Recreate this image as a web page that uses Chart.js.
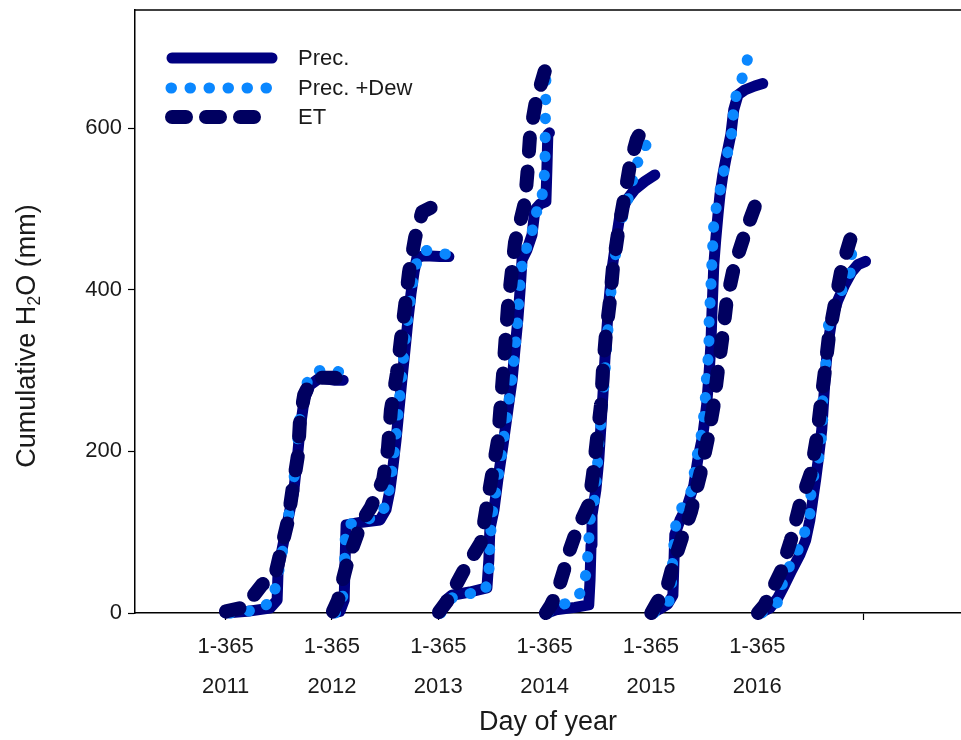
<!DOCTYPE html>
<html>
<head>
<meta charset="utf-8">
<title>Cumulative H2O</title>
<script src="https://cdn.jsdelivr.net/npm/chart.js@4.4.1/dist/chart.umd.min.js"></script>
<style>
  html, body { margin: 0; padding: 0; background: #fff; }
  #wrap { width: 961px; height: 740px; }
</style>
</head>
<body>
<div id="wrap"><canvas id="waterChart" width="961" height="740"></canvas></div>
<script>
// Years on the x axis, each one runs day 1 to 365
const years = ['2011', '2012', '2013', '2014', '2015', '2016'];
const yTicks = [0, 200, 400, 600];

// Cumulative precipitation, [day of year, mm]
const prec2011 = [[1,0],[67,2],[138,6],[160,16],[163,53],[175,78],[194,116],[212,152],[222,189],[231,227],[244,264],[262,282],[293,291],[340,288],[365,288]];
const prec2012 = [[3,0],[25,2],[38,16],[41,66],[44,109],[87,112],[149,115],[168,128],[180,152],[190,183],[199,214],[208,251],[217,288],[227,326],[236,363],[245,394],[255,422],[264,440],[289,442],[335,441],[363,441]];
const prec2013 = [[5,0],[24,16],[42,22],[98,26],[151,31],[157,66],[160,103],[173,128],[185,165],[201,208],[216,251],[229,288],[238,326],[247,363],[254,400],[260,437],[275,449],[291,468],[300,499],[316,506],[334,509],[337,548],[340,592],[345,594]];
const prec2014 = [[7,0],[35,4],[94,7],[137,10],[141,41],[144,84],[147,121],[159,152],[168,189],[175,233],[181,270],[187,313],[193,350],[200,387],[209,425],[222,462],[234,493],[255,511],[280,524],[311,534],[342,542]];
const prec2015 = [[3,0],[28,5],[52,11],[68,22],[71,59],[74,97],[90,115],[114,134],[133,158],[145,189],[161,220],[173,258],[180,295],[186,332],[189,369],[192,400],[195,431],[201,462],[208,493],[214,517],[223,542],[235,567],[248,592],[257,623],[270,641],[291,647],[322,652],[347,655]];
const prec2016 = [[8,0],[39,6],[64,19],[85,35],[107,53],[132,72],[150,90],[163,115],[172,140],[181,165],[191,196],[200,227],[206,264],[212,301],[219,332],[231,363],[250,387],[271,406],[293,422],[312,431],[336,435]];

// Cumulative precipitation plus dew, [day of year, mm]
const dew2011 = [[14,0],[107,4],[144,16],[157,35],[172,66],[191,109],[206,146],[219,189],[228,233],[240,270],[262,295],[299,301],[365,298]];
const dew2012 = [[10,0],[31,9],[38,41],[41,90],[47,109],[103,115],[149,121],[168,134],[180,158],[193,196],[202,233],[211,270],[221,311],[230,348],[242,384],[252,412],[264,435],[283,449],[320,447],[363,443]];
const dew2013 = [[8,0],[27,14],[52,21],[145,27],[157,47],[160,84],[167,121],[179,152],[194,189],[209,233],[222,270],[235,313],[244,350],[250,387],[257,425],[269,447],[288,464],[300,493],[319,505],[331,548],[332,598],[334,660]];
const dew2014 = [[10,0],[47,9],[94,16],[116,28],[131,53],[137,90],[141,115],[153,134],[162,171],[168,208],[178,251],[187,295],[193,332],[200,369],[209,412],[222,449],[234,480],[258,511],[277,542],[299,571],[333,588]];
const dew2015 = [[9,0],[34,6],[59,16],[65,41],[68,72],[77,109],[99,134],[127,152],[139,187],[155,217],[167,254],[173,297],[180,326],[180,357],[183,381],[186,404],[189,433],[192,458],[195,483],[204,505],[214,522],[226,546],[235,565],[248,586],[254,608],[257,631],[276,654],[291,671],[301,688]];
const dew2016 = [[14,0],[60,10],[73,31],[104,62],[129,80],[147,100],[163,121],[166,146],[178,177],[191,192],[203,230],[203,274],[216,321],[222,365],[268,404],[290,422],[293,447],[330,459]];

// Cumulative evapotranspiration, [day of year, mm]
const et2011 = [[1,2],[45,6],[76,16],[113,35],[154,47],[172,78],[194,115],[209,156],[225,196],[231,239],[244,270],[259,282],[293,291],[340,291],[365,288]];
const et2012 = [[3,2],[19,16],[34,41],[50,66],[72,90],[93,113],[121,131],[159,165],[174,204],[183,251],[202,297],[214,338],[227,380],[239,421],[258,464],[280,496],[320,504],[357,508]];
const et2013 = [[2,1],[30,16],[77,51],[132,87],[154,141],[185,213],[201,295],[216,378],[238,458],[269,508],[278,551],[285,592],[303,633],[331,671],[334,678]];
const et2014 = [[4,0],[20,10],[41,28],[60,53],[78,78],[100,103],[137,134],[150,171],[162,214],[175,258],[181,301],[190,344],[203,387],[212,427],[227,468],[246,511],[265,555],[286,586],[317,608]];
const et2015 = [[1,0],[18,12],[52,35],[68,59],[96,93],[124,125],[155,175],[177,217],[195,258],[208,301],[223,345],[235,386],[257,427],[291,469],[329,510]];
const et2016 = [[2,0],[23,10],[73,51],[104,90],[132,134],[166,173],[185,218],[197,259],[209,297],[222,342],[240,381],[262,427],[293,468],[306,477]];

const precByYear = [prec2011, prec2012, prec2013, prec2014, prec2015, prec2016];
const dewByYear = [dew2011, dew2012, dew2013, dew2014, dew2015, dew2016];
const etByYear = [et2011, et2012, et2013, et2014, et2015, et2016];

const yearStride = 330; // axis units between two year ticks
const FONT = '"Liberation Sans", Arial, Helvetica, sans-serif';
const TEXT = '#1a1a1a';

// lower order is drawn on top
const styles = {
  prec: { label: 'Prec.', color: '#000080', width: 11, dash: [], order: 3 },
  dew: { label: 'Prec. +Dew', color: '#0a87ff', width: 11, dash: [0.5, 18.5], order: 2 },
  et: { label: 'ET', color: '#000060', width: 14, dash: [14, 20], order: 1 }
};

function buildSets(byYear, st) {
  return byYear.map((rows, i) => ({
    label: st.label + ' ' + years[i],
    data: rows.map(([day, mm]) => ({ x: i * yearStride + day, y: mm })),
    borderColor: st.color,
    backgroundColor: st.color,
    borderWidth: st.width,
    borderDash: st.dash,
    borderCapStyle: 'round',
    borderJoinStyle: 'round',
    pointRadius: 0,
    tension: 0,
    fill: false,
    clip: false,
    order: st.order
  }));
}

// frame top, axis titles and the legend
const frameAndLabels = {
  id: 'frameAndLabels',
  afterDraw(chart) {
    const { ctx, chartArea: area } = chart;
    ctx.save();
    ctx.strokeStyle = '#000';
    ctx.lineWidth = 1.5;
    ctx.beginPath();
    ctx.moveTo(area.left, area.top);
    ctx.lineTo(area.right, area.top);
    ctx.stroke();

    ctx.fillStyle = TEXT;
    ctx.font = '27px ' + FONT;
    ctx.textAlign = 'center';
    ctx.textBaseline = 'middle';
    ctx.fillText('Day of year', (area.left + area.right) / 2, 723);

    // y title, with a subscript 2 in H2O
    ctx.save();
    ctx.translate(28, 336);
    ctx.rotate(-Math.PI / 2);
    const parts = [['Cumulative H', '27px ' + FONT, 0], ['2', '18px ' + FONT, 7], ['O (mm)', '27px ' + FONT, 0]];
    let total = 0;
    parts.forEach(([t, f]) => { ctx.font = f; total += ctx.measureText(t).width; });
    let x = -total / 2;
    ctx.textAlign = 'left';
    parts.forEach(([t, f, dy]) => {
      ctx.font = f;
      ctx.fillText(t, x, dy);
      x += ctx.measureText(t).width;
    });
    ctx.restore();

    // legend rows
    const rows = [
      { st: styles.prec, y: 58, x0: 172, x1: 272 },
      { st: styles.dew, y: 88, x0: 171, x1: 268 },
      { st: styles.et, y: 117, x0: 172, x1: 262 }
    ];
    rows.forEach(r => {
      ctx.strokeStyle = r.st.color;
      ctx.lineWidth = r.st.width;
      ctx.lineCap = 'round';
      ctx.setLineDash(r.st.dash);
      ctx.beginPath();
      ctx.moveTo(r.x0, r.y);
      ctx.lineTo(r.x1, r.y);
      ctx.stroke();
      ctx.setLineDash([]);
      ctx.fillStyle = TEXT;
      ctx.font = '22px ' + FONT;
      ctx.textAlign = 'left';
      ctx.textBaseline = 'middle';
      ctx.fillText(r.st.label, 298, r.y + 1);
    });
    ctx.restore();
  }
};

// fixed axis sizes so the plot area sits where it should
function fitX(s) {
  s.height = 127;
  s.paddingLeft = 0;
  s.paddingRight = 0;
}
function fitY(s) {
  s.width = 135;
  s.paddingTop = 0;
  s.paddingBottom = 0;
}

const ctx = document.getElementById('waterChart').getContext('2d');
const chart = new Chart(ctx, {
  type: 'line',
  data: {
    datasets: [
      ...buildSets(etByYear, styles.et),
      ...buildSets(dewByYear, styles.dew),
      ...buildSets(precByYear, styles.prec)
    ]
  },
  options: {
    responsive: false,
    animation: false,
    devicePixelRatio: 1,
    layout: { padding: { top: 10, left: 0, right: 0, bottom: 0 } },
    plugins: {
      legend: { display: false },
      tooltip: { enabled: false }
    },
    scales: {
      x: {
        type: 'linear',
        min: -281,
        max: 2282,
        afterBuildTicks: s => { s.ticks = [0, 1, 2, 3, 4, 5, 6].map(i => ({ value: i * yearStride })); },
        afterFit: fitX,
        grid: { drawOnChartArea: false, drawTicks: true, tickLength: 7, tickColor: '#000', tickWidth: 1.2 },
        border: { display: true, color: '#000', width: 1.5 },
        ticks: {
          autoSkip: false,
          maxRotation: 0,
          padding: 7,
          color: TEXT,
          font: { family: FONT, size: 22, lineHeight: '40px' },
          callback: v => {
            const i = Math.round(v / yearStride);
            return i < years.length ? ['1-365', years[i]] : '';
          }
        }
      },
      y: {
        min: 0,
        max: 746,
        afterBuildTicks: s => { s.ticks = yTicks.map(v => ({ value: v })); },
        afterFit: fitY,
        grid: { drawOnChartArea: false, drawTicks: true, tickLength: 7, tickColor: '#000', tickWidth: 1.2 },
        border: { display: true, color: '#000', width: 1.5 },
        ticks: {
          padding: 6,
          color: TEXT,
          font: { family: FONT, size: 22 },
          callback: v => v
        }
      }
    }
  },
  plugins: [frameAndLabels]
});
</script>
</body>
</html>
